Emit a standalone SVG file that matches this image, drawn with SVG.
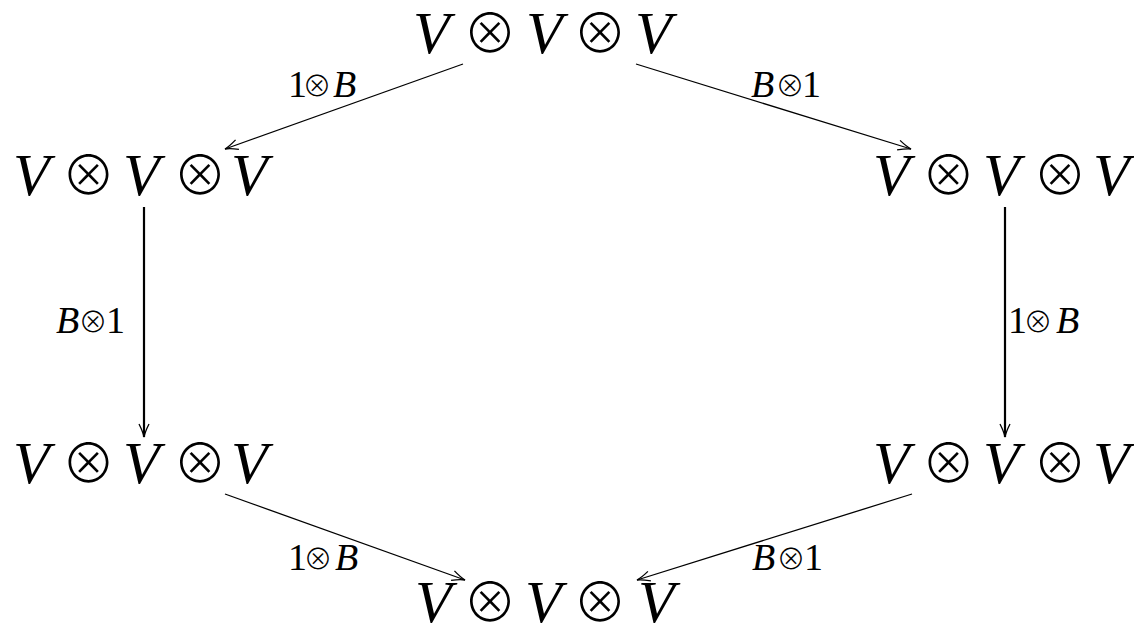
<svg xmlns="http://www.w3.org/2000/svg" width="1134" height="629" viewBox="0 0 1134 629">
<style>
.v{font-family:"Liberation Serif",serif;font-style:italic;font-size:60px;fill:#000}
.o{font-family:"Noto Sans CJK JP","DejaVu Sans",sans-serif;font-style:normal;font-weight:300;font-size:54px}
.lb{font-family:"Liberation Serif",serif;font-size:38px;fill:#000}
.i{font-style:italic}
.so{font-family:"Noto Sans CJK JP","DejaVu Sans",sans-serif;font-weight:300;font-size:29px}
.e{fill:none;stroke:#000;stroke-width:1.3}
.ev{fill:none;stroke:#000;stroke-width:2.2}
</style>
<defs>
<marker id="ah" viewBox="-14 -7 16 14" refX="0" refY="0" markerWidth="16" markerHeight="14" markerUnits="userSpaceOnUse" orient="auto">
<path d="M-13,-5 Q-5,-1 0,0 Q-5,1 -13,5" fill="none" stroke="#000" stroke-width="1.3"/>
</marker>
</defs>
<g id="connectors">
<line class="e" x1="463" y1="64" x2="225" y2="149" marker-end="url(#ah)"/>
<line class="e" x1="636" y1="64" x2="911" y2="149" marker-end="url(#ah)"/>
<line class="ev" x1="144" y1="207" x2="144" y2="437" marker-end="url(#ah)"/>
<line class="ev" x1="1005" y1="207" x2="1005" y2="437" marker-end="url(#ah)"/>
<line class="e" x1="225" y1="494" x2="465" y2="580" marker-end="url(#ah)"/>
<line class="e" x1="912" y1="494" x2="637" y2="580" marker-end="url(#ah)"/>
<text class="lb" y="97"><tspan x="288">1</tspan><tspan class="so" x="317" text-anchor="middle">⊗</tspan><tspan class="i" x="333">B</tspan></text>
<text class="lb" y="97"><tspan class="i" x="751">B</tspan><tspan class="so" x="790" text-anchor="middle">⊗</tspan><tspan x="802">1</tspan></text>
<text class="lb" y="333"><tspan class="i" x="56">B</tspan><tspan class="so" x="93" text-anchor="middle">⊗</tspan><tspan x="106">1</tspan></text>
<text class="lb" y="333"><tspan x="1008">1</tspan><tspan class="so" x="1038" text-anchor="middle">⊗</tspan><tspan class="i" x="1056">B</tspan></text>
<text class="lb" y="570"><tspan x="288">1</tspan><tspan class="so" x="318" text-anchor="middle">⊗</tspan><tspan class="i" x="335">B</tspan></text>
<text class="lb" y="570"><tspan class="i" x="752">B</tspan><tspan class="so" x="791" text-anchor="middle">⊗</tspan><tspan x="804">1</tspan></text>
</g>
<g id="top"><text class="v" y="53"><tspan x="413">V</tspan><tspan class="o" x="490" text-anchor="middle">⊗</tspan><tspan x="526">V</tspan><tspan class="o" x="600" text-anchor="middle">⊗</tspan><tspan x="635">V</tspan></text></g>
<g id="midleft"><text class="v" y="195"><tspan x="13">V</tspan><tspan class="o" x="88.5" text-anchor="middle">⊗</tspan><tspan x="123">V</tspan><tspan class="o" x="200" text-anchor="middle">⊗</tspan><tspan x="231">V</tspan></text></g>
<g id="midright"><text class="v" y="195"><tspan x="873">V</tspan><tspan class="o" x="948.5" text-anchor="middle">⊗</tspan><tspan x="983">V</tspan><tspan class="o" x="1060" text-anchor="middle">⊗</tspan><tspan x="1093">V</tspan></text></g>
<g id="botleft"><text class="v" y="483"><tspan x="13">V</tspan><tspan class="o" x="88.5" text-anchor="middle">⊗</tspan><tspan x="123">V</tspan><tspan class="o" x="200" text-anchor="middle">⊗</tspan><tspan x="231">V</tspan></text></g>
<g id="botright"><text class="v" y="483"><tspan x="873">V</tspan><tspan class="o" x="948.5" text-anchor="middle">⊗</tspan><tspan x="983">V</tspan><tspan class="o" x="1060" text-anchor="middle">⊗</tspan><tspan x="1093">V</tspan></text></g>
<g id="bottom"><text class="v" y="622"><tspan x="415">V</tspan><tspan class="o" x="490" text-anchor="middle">⊗</tspan><tspan x="525">V</tspan><tspan class="o" x="600" text-anchor="middle">⊗</tspan><tspan x="638">V</tspan></text></g>
</svg>
